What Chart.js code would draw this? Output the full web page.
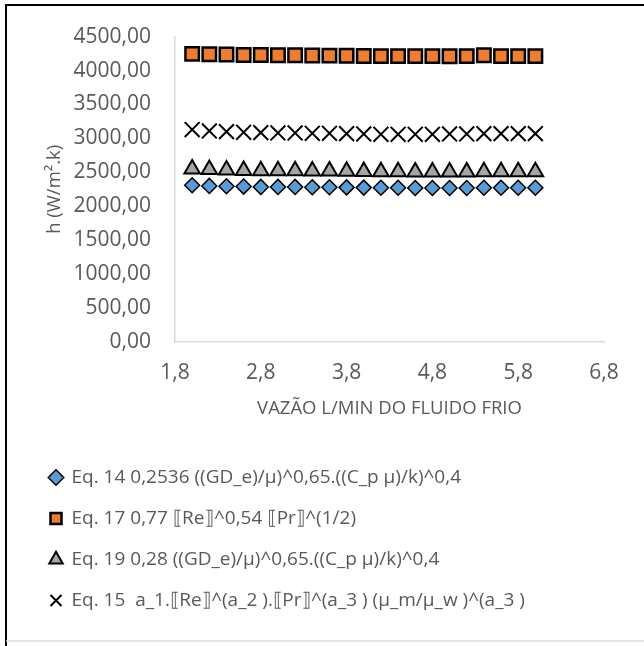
<!DOCTYPE html>
<html>
<head>
<meta charset="utf-8">
<script src="https://cdn.jsdelivr.net/npm/chart.js@4.4.0/dist/chart.umd.min.js"></script>
<style>
  html, body { margin: 0; padding: 0; background: #ffffff; }
  #wrap { width: 644px; height: 646px; position: relative; }
</style>
</head>
<body>
<div id="wrap"><canvas id="chart" width="644" height="646"></canvas></div>
<script>
// Cold-fluid flow rate (L/min)
const vazao = [2.0, 2.2, 2.4, 2.6, 2.8, 3.0, 3.2, 3.4, 3.6, 3.8, 4.0,
               4.2, 4.4, 4.6, 4.8, 5.0, 5.2, 5.4, 5.6, 5.8, 6.0];

// Heat transfer coefficient h (W/m².k) for each correlation
const eq14 = [2310, 2300, 2295, 2290, 2285, 2285, 2285, 2280, 2280, 2278, 2275,
              2272, 2272, 2270, 2270, 2270, 2270, 2272, 2272, 2272, 2272];
const eq17 = [4245, 4240, 4235, 4230, 4228, 4225, 4225, 4222, 4220, 4218, 4215,
              4212, 4212, 4212, 4212, 4210, 4212, 4225, 4212, 4212, 4212];
const eq19 = [2550, 2540, 2535, 2528, 2522, 2522, 2522, 2518, 2518, 2515, 2512,
              2508, 2508, 2505, 2505, 2505, 2505, 2508, 2508, 2508, 2508];
const eq15 = [3130, 3110, 3100, 3090, 3085, 3080, 3080, 3075, 3075, 3070, 3065,
              3060, 3060, 3060, 3060, 3065, 3065, 3070, 3070, 3070, 3070];

const seriesNames = [
  'Eq. 14 0,2536 ((GD_e)/μ)^0,65.((C_p μ)/k)^0,4',
  'Eq. 17 0,77 ⟦Re⟧^0,54 ⟦Pr⟧^(1∕2)',
  'Eq. 19 0,28 ((GD_e)/μ)^0,65.((C_p μ)/k)^0,4',
  'Eq. 15  a_1.⟦Re⟧^(a_2 ).⟦Pr⟧^(a_3 ) (μ_m/μ_w )^(a_3 )'
];

const xTicks = [1.8, 2.8, 3.8, 4.8, 5.8, 6.8];
const yTicks = [0, 500, 1000, 1500, 2000, 2500, 3000, 3500, 4000, 4500];

const FONT = "'Open Sans', 'DejaVu Sans', sans-serif";
const TEXT = '#595959';
const AXIS = '#d9d9d9';

const pts = (ys) => vazao.map((x, i) => ({ x: x, y: ys[i] }));
const comma = (v, d) => v.toFixed(d).replace('.', ',');

// White background and frame lines
const framePlugin = {
  id: 'frame',
  beforeDraw(chart) {
    const ctx = chart.ctx;
    ctx.save();
    ctx.fillStyle = '#ffffff';
    ctx.fillRect(0, 0, chart.width, chart.height);
    ctx.restore();
  },
  afterDraw(chart) {
    const ctx = chart.ctx;
    ctx.save();
    ctx.strokeStyle = '#000000';
    ctx.lineWidth = 2;
    ctx.beginPath();
    ctx.moveTo(6, chart.height);
    ctx.lineTo(6, 5);
    ctx.lineTo(chart.width, 5);
    ctx.stroke();
    ctx.strokeStyle = '#d9d9d9';
    ctx.lineWidth = 1.5;
    ctx.beginPath();
    ctx.moveTo(6, 641);
    ctx.lineTo(chart.width, 641);
    ctx.stroke();
    ctx.restore();
  }
};

new Chart(document.getElementById('chart'), {
  type: 'scatter',
  data: {
    datasets: [
      {
        label: seriesNames[0], data: pts(eq14),
        pointStyle: 'rectRot', pointRadius: 7.5, pointHoverRadius: 7.5,
        backgroundColor: '#5b9bd5', borderColor: '#000000', borderWidth: 1.5
      },
      {
        label: seriesNames[1], data: pts(eq17),
        pointStyle: 'rect', pointRadius: 9.5, pointHoverRadius: 9.5,
        backgroundColor: '#ed7d31', borderColor: '#000000', borderWidth: 2.5
      },
      {
        label: seriesNames[2], data: pts(eq19),
        pointStyle: 'triangle', pointRadius: 9, pointHoverRadius: 9,
        backgroundColor: '#a5a5a5', borderColor: '#000000', borderWidth: 2
      },
      {
        label: seriesNames[3], data: pts(eq15),
        pointStyle: 'crossRot', pointRadius: 10.5, pointHoverRadius: 10.5,
        backgroundColor: '#000000', borderColor: '#000000', borderWidth: 2
      }
    ]
  },
  options: {
    responsive: false,
    animation: false,
    devicePixelRatio: 1,
    layout: { padding: { left: 28, top: 35, right: 40, bottom: 26 } },
    scales: {
      x: {
        type: 'linear',
        min: 1.8, max: 6.8,
        afterBuildTicks: (s) => { s.ticks = xTicks.map(v => ({ value: v })); },
        afterFit: (s) => { s.height = 104; },
        ticks: {
          color: TEXT, padding: 18,
          font: { family: FONT, size: 21 },
          callback: (v) => comma(v, 1)
        },
        grid: { display: false, drawTicks: false },
        border: { display: true, color: AXIS, width: 1.5 },
        title: {
          display: true, text: 'VAZÃO L/MIN DO FLUIDO FRIO',
          color: TEXT, font: { family: FONT, size: 18.5 },
          padding: { top: 4, bottom: 26 }
        }
      },
      y: {
        min: 0, max: 4500,
        afterBuildTicks: (s) => { s.ticks = yTicks.map(v => ({ value: v })); },
        afterFit: (s) => { s.width = 147; },
        ticks: {
          color: TEXT, padding: 24,
          font: { family: FONT, size: 21 },
          callback: (v) => comma(v, 2)
        },
        grid: { display: false, drawTicks: false },
        border: { display: true, color: AXIS, width: 1.5 },
        title: {
          display: true, text: 'h (W/m².k)',
          color: TEXT, font: { family: FONT, size: 18.5 },
          padding: { top: 16, bottom: 4 }
        }
      }
    },
    plugins: {
      tooltip: { enabled: false },
      legend: {
        position: 'bottom',
        align: 'start',
        labels: {
          usePointStyle: true,
          boxWidth: 12,
          boxHeight: 11,
          padding: 22,
          color: TEXT,
          font: { family: FONT, size: 19 }
        }
      }
    }
  },
  plugins: [framePlugin]
});
</script>
</body>
</html>
